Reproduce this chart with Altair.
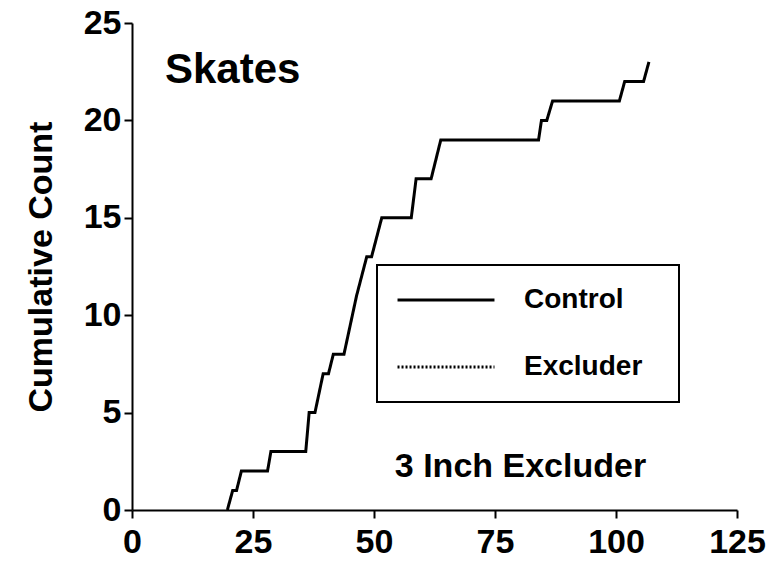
import altair as alt
import pandas as pd

# Control series (cumulative count vs time)
ctrl_x = [19.7, 20.8, 21.6, 22.6, 28.0, 28.7, 35.9, 36.6, 37.8, 39.5, 40.6, 41.6,
          43.8, 46.4, 48.5, 49.5, 51.6, 57.7, 58.7, 61.8, 63.8, 84.0, 84.6, 85.7,
          86.9, 100.7, 101.8, 105.7, 106.8]
ctrl_y = [0, 1, 1, 2, 2, 3, 3, 5, 5, 7, 7, 8,
          8, 11, 13, 13, 15, 15, 17, 17, 19, 19, 20, 20,
          21, 21, 22, 22, 23]

series_names = ["Control", "Excluder"]
x_ticks = [0, 25, 50, 75, 100, 125]
y_ticks = [0, 5, 10, 15, 20, 25]

panel_title = ["Skates"]
panel_title_x = [6.8]
panel_title_y = [22.6]
note_text = ["3 Inch Excluder"]
note_x = [54.3]
note_y = [2.2]

FONT = "Liberation Sans"

df = pd.DataFrame({
    "t": ctrl_x,
    "count": ctrl_y,
    "series": ["Control"] * len(ctrl_x),
    "order": list(range(len(ctrl_x))),
})

xs = alt.Scale(domain=[0, 125], nice=False, zero=False)
ys = alt.Scale(domain=[0, 25], nice=False)

line = alt.Chart(df).mark_line(color="black", strokeWidth=3, clip=False).encode(
    x=alt.X("t:Q", scale=xs, axis=alt.Axis(values=x_ticks, title=None)),
    y=alt.Y("count:Q", scale=ys, axis=alt.Axis(values=y_ticks, title="Cumulative Count")),
    order="order:Q",
    strokeDash=alt.StrokeDash(
        "series:N",
        scale=alt.Scale(domain=series_names, range=[[1, 0], [2, 2]]),
        legend=alt.Legend(
            orient="none", legendX=245, legendY=242, title=None,
            symbolType="M-5,0H5", symbolSize=376, symbolStrokeWidth=3,
            symbolStrokeColor="black", symbolOffset=34,
            labelFont=FONT, labelFontSize=28, labelFontWeight="bold",
            labelColor="black", labelOffset=64, padding=21, rowPadding=39,
            strokeColor="black",
            labelExpr="datum.label + '\u00a0\u00a0\u200b'",
        ),
    ),
)

title_df = pd.DataFrame({"label": panel_title, "x": panel_title_x, "y": panel_title_y})
skates = alt.Chart(title_df).mark_text(
    align="left", baseline="middle", font=FONT, fontSize=42, fontWeight="bold", color="black"
).encode(x=alt.X("x:Q", scale=xs), y=alt.Y("y:Q", scale=ys), text="label:N")

note_df = pd.DataFrame({"label": note_text, "x": note_x, "y": note_y})
note = alt.Chart(note_df).mark_text(
    align="left", baseline="middle", font=FONT, fontSize=34, fontWeight="bold", color="black"
).encode(x=alt.X("x:Q", scale=xs), y=alt.Y("y:Q", scale=ys), text="label:N")

chart = alt.layer(line, skates, note).properties(
    width=605, height=487,
    autosize=alt.AutoSizeParams(type="none"),
    padding={"left": 132, "top": 23, "right": 31, "bottom": 55},
    background="white",
).configure_view(stroke=None).configure_axis(
    grid=False, domainColor="black", domainWidth=2, tickColor="black", tickWidth=2,
    tickSize=8, labelFont=FONT, labelFontSize=34, labelFontWeight="bold",
    labelColor="black", titleFont=FONT, titleFontSize=34, titleFontWeight="bold",
    titleColor="black",
).configure_axisX(labelPadding=7, labelFlush=False).configure_axisY(
    labelPadding=3, titlePadding=25
).configure_legend(strokeWidth=2)

chart.save("out.html", embed_options={"renderer": "svg", "actions": False})
